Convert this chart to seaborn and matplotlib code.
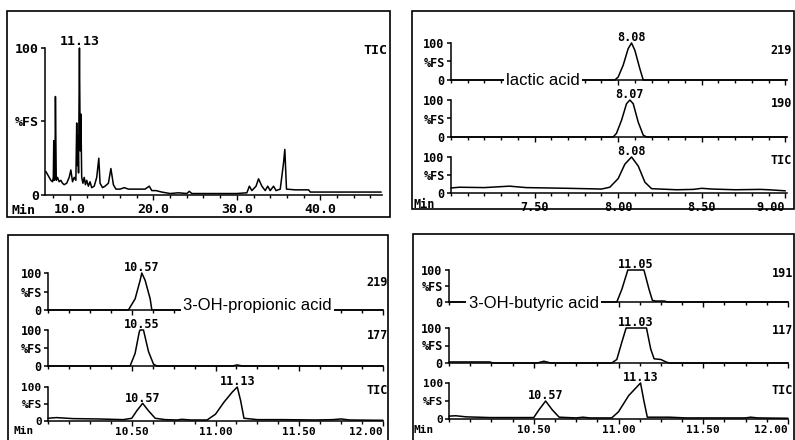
import numpy as np
import pandas as pd
import matplotlib
matplotlib.use("Agg")
import matplotlib.pyplot as plt
from matplotlib.patches import Rectangle
from matplotlib.ticker import MultipleLocator
import seaborn as sns

# ==========================================
# Data (time in min, intensity in %FS)
# ==========================================

# top left: full run, TIC
tic_full_t = [7.1, 7.3, 7.5, 7.7, 7.9, 8.0, 8.05, 8.1, 8.2, 8.25, 8.35, 8.5, 8.7, 8.9, 9.1, 9.3,
              9.6, 9.9, 10.1, 10.3, 10.5, 10.7, 10.8, 10.88, 10.95, 11.02, 11.13, 11.22, 11.3, 11.4,
              11.55, 11.7, 11.85, 12.0, 12.2, 12.4, 12.6, 12.9, 13.2, 13.45, 13.6, 13.9, 14.2, 14.6,
              14.9, 15.2, 15.5, 16.0, 16.5, 17.0, 18.0, 19.0, 19.5, 19.8, 20.3, 21.0, 22.0, 23.0,
              24.0, 24.3, 24.6, 26.0, 28.0, 30.0, 31.2, 31.5, 31.8, 32.3, 32.6, 33.0, 33.4, 33.7,
              34.0, 34.4, 34.7, 35.2, 35.6, 35.75, 35.95, 37.0, 38.6, 38.8, 40.0, 42.0, 44.0, 46.0, 47.3]
tic_full_v = [16, 14, 12, 10, 9, 12, 37, 10, 12, 67, 10, 12, 9, 10, 8, 7,
              8, 12, 17, 9, 12, 10, 49, 20, 40, 15, 100, 30, 55, 12,
              8, 12, 7, 10, 6, 9, 5, 6, 12, 25, 8, 5, 6, 8,
              18, 7, 4, 4, 5, 4, 4, 4, 6, 3, 3, 2, 1, 1.5,
              1, 2.5, 1, 1, 1, 1, 1.5, 6, 3, 6, 11, 6, 3, 6,
              3, 6, 3, 4, 22, 31, 4, 3.5, 3.5, 2, 2, 2, 2, 2, 2]

# top right: lactic acid
lac_219_t = [7.0, 7.98, 8.0, 8.03, 8.06, 8.08, 8.1, 8.13, 8.15, 9.01]
lac_219_v = [0, 0, 8, 40, 85, 100, 80, 30, 0, 0]
lac_190_t = [7.0, 7.97, 7.99, 8.02, 8.05, 8.07, 8.09, 8.12, 8.15, 8.17, 9.01]
lac_190_v = [0, 0, 10, 45, 90, 100, 90, 40, 5, 0, 0]
lac_tic_t = [7.0, 7.05, 7.2, 7.35, 7.45, 7.7, 7.9, 7.95, 8.0, 8.04, 8.08, 8.12, 8.16, 8.2,
             8.35, 8.45, 8.5, 8.56, 8.7, 8.85, 8.9, 9.0]
lac_tic_v = [14, 16, 15, 19, 15, 13, 11, 16, 40, 80, 100, 75, 30, 12,
             9, 10, 13, 11, 9, 10, 9, 6]

# bottom left: 3-OH-propionic acid
pro_219_t = [10.0, 10.48, 10.52, 10.55, 10.56, 10.58, 10.61, 10.62, 12.0]
pro_219_v = [0, 0, 30, 80, 100, 80, 30, 0, 0]
pro_177_t = [10.0, 10.49, 10.52, 10.545, 10.55, 10.57, 10.6, 10.63, 10.65, 11.1, 11.13, 11.16, 12.0]
pro_177_v = [0, 0, 35, 95, 100, 100, 40, 5, 0, 0, 3, 0, 0]
pro_tic_t = [10.0, 10.05, 10.15, 10.3, 10.45, 10.5, 10.53, 10.565, 10.6, 10.64, 10.7, 10.77,
             10.8, 10.85, 10.95, 11.0, 11.05, 11.1, 11.13, 11.15, 11.17, 11.25, 11.4, 11.6,
             11.7, 11.75, 11.8, 12.0]
pro_tic_v = [8, 10, 7, 6, 4, 8, 30, 52, 30, 8, 4, 3,
             5, 3, 3, 20, 55, 85, 100, 60, 8, 4, 4, 3,
             4, 6, 3, 2]

# bottom right: 3-OH-butyric acid
but_191_t = [10.0, 10.99, 11.02, 11.055, 11.15, 11.18, 11.2, 11.22, 11.27, 11.29, 12.0]
but_191_v = [0, 0, 40, 100, 100, 40, 5, 3, 3, 0, 0]
but_117_t = [10.0, 10.24, 10.26, 10.52, 10.56, 10.6, 10.96, 10.99, 11.02, 11.045, 11.165,
             11.19, 11.21, 11.25, 11.28, 11.3, 12.0]
but_117_v = [3, 3, 0, 0, 5, 0, 0, 10, 60, 100, 100, 40, 12, 10, 3, 0, 0]
but_tic_t = [10.0, 10.04, 10.1, 10.24, 10.5, 10.53, 10.57, 10.61, 10.65, 10.75, 10.79, 10.83,
             10.96, 11.0, 11.06, 11.13, 11.15, 11.17, 11.3, 11.4, 11.75, 11.78, 11.82, 12.0]
but_tic_v = [8, 9, 6, 4, 4, 25, 50, 25, 5, 3, 5, 3,
             3, 20, 65, 100, 50, 5, 5, 3, 3, 5, 3, 2]

# ==========================================
# Figure setup
# ==========================================

sns.set_theme(style="white")
plt.rcParams['font.family'] = ['DejaVu Sans Mono', 'DejaVu Sans']
plt.rcParams['axes.edgecolor'] = 'black'

W, H = 795, 440
fig = plt.figure(figsize=(W / 100, H / 100), dpi=100)
fig.patch.set_facecolor('white')

DOT = dict(family='DejaVu Sans Mono', weight='bold', color='black')
SANS = dict(family='Liberation Sans', color='black')
FS = 8.5


def trace_axes(x0, x1, y100, y0):
    # axes placed in pixel coordinates of the page
    return fig.add_axes([x0 / W, 1 - y0 / H, (x1 - x0) / W, (y0 - y100) / H])


def draw_trace(ax, t, v, xlim, major, minor, fs=FS, labels=None, pad=2):
    df = pd.DataFrame({'t': t, 'v': v})
    sns.lineplot(data=df, x='t', y='v', ax=ax, color='black', lw=1.1, estimator=None)
    for ln in ax.lines:
        ln.set_clip_on(False)
    ax.set_xlim(xlim)
    ax.set_ylim(0, 100)
    ax.set_facecolor('none')
    ax.set_xlabel('')
    ax.set_ylabel('')
    for s in ['top', 'right']:
        ax.spines[s].set_visible(False)
    for s in ['left', 'bottom']:
        ax.spines[s].set_linewidth(1.1)
        ax.spines[s].set_color('black')
    ax.set_yticks([0, 50, 100])
    ax.set_yticklabels(['0', '%FS', '100'], **DOT, fontsize=fs)
    ax.tick_params(axis='y', left=True, length=3, width=1.1, direction='out', pad=1.5, colors='black')
    ax.set_xticks(major)
    ax.xaxis.set_minor_locator(MultipleLocator(minor))
    ax.tick_params(axis='x', which='both', bottom=True, direction='out', width=1, colors='black')
    ax.tick_params(axis='x', which='major', length=3.5)
    ax.tick_params(axis='x', which='minor', length=2)
    if labels is None:
        ax.tick_params(axis='x', labelbottom=False)
    else:
        ax.set_xticklabels(labels, **DOT, fontsize=fs)
        ax.tick_params(axis='x', pad=pad)
    ax.grid(False)


def peak_label(ax, text, t, v, fs=FS, dy=-1):
    ax.annotate(text, xy=(t, v), xytext=(0, dy), textcoords='offset points',
                ha='center', va='bottom', fontsize=fs, **DOT)


def side_label(text, x, y, fs=FS):
    fig.text(x / W, 1 - y / H, text, ha='right', va='center', fontsize=fs, **DOT)


def compound(ax, text, t, dy=0, ha='center'):
    ax.annotate(text, xy=(t, 0), xytext=(0, dy), textcoords='offset points', ha=ha, va='center',
                fontsize=12, **SANS, zorder=5,
                bbox=dict(boxstyle='square,pad=0.15', fc='white', ec='none'))


# panel frames
for (x0, y0, x1, y1) in [(7, 11, 390, 217), (412, 11, 794, 209), (8, 235, 388, 446), (413, 234, 794, 446)]:
    fig.patches.append(Rectangle((x0 / W, 1 - y1 / H), (x1 - x0) / W, (y1 - y0) / H,
                                 transform=fig.transFigure, fill=False, ec='black', lw=1.2))

# ==========================================
# Top left: full TIC
# ==========================================
ax = trace_axes(45, 382, 48, 195)
draw_trace(ax, tic_full_t, tic_full_v, (7.0, 47.4), [10, 20, 30, 40], 2, fs=9.5,
           labels=['10.0', '20.0', '30.0', '40.0'])
peak_label(ax, '11.13', 11.13, 100, fs=9.5, dy=0)
side_label('TIC', 387, 50, fs=9.5)
fig.text(12 / W, 1 - 210 / H, 'Min', ha='left', va='center', fontsize=9.5, **DOT)

# ==========================================
# Top right: lactic acid
# ==========================================
xl = (7.0, 9.01)
ax1 = trace_axes(451, 787, 43, 80)
draw_trace(ax1, lac_219_t, lac_219_v, xl, [7.5, 8.0, 8.5, 9.0], 0.1)
peak_label(ax1, '8.08', 8.08, 100)
compound(ax1, 'lactic acid', 7.55)
ax2 = trace_axes(451, 787, 100, 137)
draw_trace(ax2, lac_190_t, lac_190_v, xl, [7.5, 8.0, 8.5, 9.0], 0.1)
peak_label(ax2, '8.07', 8.07, 100)
ax3 = trace_axes(451, 787, 157, 193)
draw_trace(ax3, lac_tic_t, lac_tic_v, xl, [7.5, 8.0, 8.5, 9.0], 0.1,
           labels=['7.50', '8.00', '8.50', '9.00'])
ax3.get_xticklabels()[-1].set_ha('right')
peak_label(ax3, '8.08', 8.08, 100)
side_label('219', 792, 50)
side_label('190', 792, 103)
side_label('TIC', 792, 160)
fig.text(413 / W, 1 - 205 / H, 'Min', ha='left', va='center', fontsize=FS, **DOT)

# ==========================================
# Bottom left: 3-OH-propionic acid
# ==========================================
xl = (10.0, 12.0)
mj = [10.5, 11.0, 11.5, 12.0]
mj_lab = ['10.50', '11.00', '11.50', '12.00']
ax1 = trace_axes(48, 383, 273, 310)
draw_trace(ax1, pro_219_t, pro_219_v, xl, mj, 0.125)
peak_label(ax1, '10.57', 10.56, 100)
compound(ax1, '3-OH-propionic acid', 11.25, dy=3)
ax2 = trace_axes(48, 383, 330, 366)
draw_trace(ax2, pro_177_t, pro_177_v, xl, mj, 0.125)
peak_label(ax2, '10.55', 10.56, 100)
ax3 = trace_axes(48, 383, 387, 421)
draw_trace(ax3, pro_tic_t, pro_tic_v, xl, mj, 0.125, fs=8, labels=mj_lab, pad=0.5)
ax3.get_xticklabels()[-1].set_ha('right')
peak_label(ax3, '10.57', 10.565, 52)
peak_label(ax3, '11.13', 11.13, 100)
side_label('219', 388, 283)
side_label('177', 388, 335)
side_label('TIC', 388, 390)
fig.text(13 / W, 1 - 431 / H, 'Min', ha='left', va='center', fontsize=8, **DOT)

# ==========================================
# Bottom right: 3-OH-butyric acid
# ==========================================
ax1 = trace_axes(449, 788, 270, 302)
draw_trace(ax1, but_191_t, but_191_v, xl, mj, 0.125)
peak_label(ax1, '11.05', 11.1, 100)
compound(ax1, '3-OH-butyric acid', 10.5, dy=-1)
ax2 = trace_axes(449, 788, 328, 363)
draw_trace(ax2, but_117_t, but_117_v, xl, mj, 0.125)
peak_label(ax2, '11.03', 11.1, 100)
ax3 = trace_axes(449, 788, 383, 419)
draw_trace(ax3, but_tic_t, but_tic_v, xl, mj, 0.125, fs=8, labels=mj_lab, pad=0.5)
ax3.get_xticklabels()[-1].set_ha('right')
peak_label(ax3, '10.57', 10.57, 50)
peak_label(ax3, '11.13', 11.13, 100)
side_label('191', 793, 273)
side_label('117', 793, 330)
side_label('TIC', 793, 390)
fig.text(413 / W, 1 - 430 / H, 'Min', ha='left', va='center', fontsize=8, **DOT)

fig.savefig('out.png', dpi=100, facecolor='white')
